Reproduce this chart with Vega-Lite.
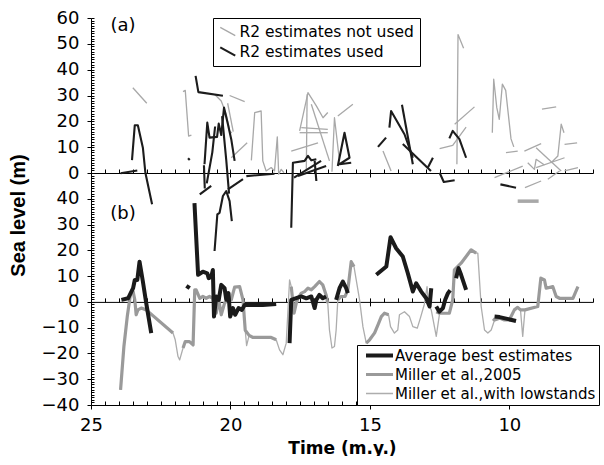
{
  "$schema": "https://vega.github.io/schema/vega-lite/v6.json",
  "padding": {"left": 8, "top": 9, "right": 0, "bottom": 0},
  "bounds": "flush",
  "spacing": 0,
  "config": {
    "font": "DejaVu Sans",
    "view": {"stroke": null},
    "axis": {"domainColor": "#000", "tickColor": "#000", "labelColor": "#000", "titleColor": "#000", "grid": false, "labelFont": "DejaVu Sans", "domainWidth": 1, "tickWidth": 1, "labelOverlap": false, "ticks": true}
  },
  "datasets": {
    "ra": [
      {"s":"n","g":1,"t":23.5,"v":33},{"s":"n","g":1,"t":23.0,"v":27},
      {"s":"n","g":2,"t":21.7,"v":31.5},{"s":"n","g":2,"t":21.62,"v":32},{"s":"n","g":2,"t":21.5,"v":14.3},{"s":"n","g":2,"t":21.4,"v":14.7},
      {"s":"n","g":3,"t":20.03,"v":30},{"s":"n","g":3,"t":19.49,"v":27.6},
      {"s":"n","g":4,"t":19.25,"v":4.9},{"s":"n","g":4,"t":19.13,"v":23.4},{"s":"n","g":4,"t":18.9,"v":24},{"s":"n","g":4,"t":18.84,"v":4.7},{"s":"n","g":4,"t":18.72,"v":0.8},{"s":"n","g":4,"t":18.54,"v":2.1},{"s":"n","g":4,"t":18.42,"v":0.8},{"s":"n","g":4,"t":18.32,"v":14},{"s":"n","g":4,"t":18.27,"v":-0.5},{"s":"n","g":4,"t":18.18,"v":1.4},{"s":"n","g":4,"t":18.08,"v":0.1},
      {"s":"n","g":5,"t":19.97,"v":5.9},{"s":"n","g":5,"t":19.4,"v":11.7},
      {"s":"n","g":6,"t":20.57,"v":30.5},{"s":"n","g":6,"t":20.33,"v":27.9},{"s":"n","g":6,"t":20.15,"v":22.7},{"s":"n","g":6,"t":20.03,"v":16.3},{"s":"n","g":6,"t":19.95,"v":15.5},
      {"s":"n","g":7,"t":20.1,"v":27},{"s":"n","g":7,"t":19.9,"v":16},
      {"s":"n","g":8,"t":17.52,"v":16.3},{"s":"n","g":8,"t":17.22,"v":31.1},{"s":"n","g":8,"t":16.92,"v":26},{"s":"n","g":8,"t":16.68,"v":21.4},{"s":"n","g":8,"t":16.51,"v":23.4},
      {"s":"n","g":9,"t":17.52,"v":15.6},{"s":"n","g":9,"t":16.51,"v":15.6},
      {"s":"n","g":10,"t":17.46,"v":17.6},{"s":"n","g":10,"t":16.51,"v":16.9},
      {"s":"n","g":11,"t":17.82,"v":8.5},{"s":"n","g":11,"t":16.86,"v":11.7},
      {"s":"n","g":12,"t":17.25,"v":30.5},{"s":"n","g":12,"t":17.28,"v":0.8},
      {"s":"n","g":13,"t":17.1,"v":26.6},{"s":"n","g":13,"t":16.45,"v":4.7},
      {"s":"n","g":14,"t":16.36,"v":0.5},{"s":"n","g":14,"t":16.27,"v":21.4},{"s":"n","g":14,"t":16.09,"v":4.7},
      {"s":"n","g":15,"t":16.15,"v":22.1},{"s":"n","g":15,"t":15.61,"v":26.6},
      {"s":"n","g":16,"t":14.53,"v":8.5},{"s":"n","g":16,"t":14.24,"v":0.8},
      {"s":"n","g":17,"t":12.5,"v":9.4},{"s":"n","g":17,"t":12.03,"v":10.7},{"s":"n","g":17,"t":11.55,"v":17.8},
      {"s":"n","g":18,"t":11.96,"v":18.9},{"s":"n","g":18,"t":11.25,"v":25.6},
      {"s":"n","g":19,"t":11.88,"v":3.4},{"s":"n","g":19,"t":11.84,"v":53.6},{"s":"n","g":19,"t":11.64,"v":48.3},
      {"s":"n","g":20,"t":10.61,"v":15.6},{"s":"n","g":20,"t":10.56,"v":36.3},{"s":"n","g":20,"t":10.45,"v":25.3},{"s":"n","g":20,"t":10.36,"v":20.8},{"s":"n","g":20,"t":10.25,"v":34.4},{"s":"n","g":20,"t":10.13,"v":32},{"s":"n","g":20,"t":9.94,"v":13.2},{"s":"n","g":20,"t":9.84,"v":10.1},
      {"s":"n","g":21,"t":10.12,"v":7.9},{"s":"n","g":21,"t":9.7,"v":8.5},
      {"s":"w","g":22,"t":9.7,"v":-10.9},{"s":"w","g":22,"t":8.95,"v":-10.9},
      {"s":"n","g":23,"t":10.53,"v":-1.8},{"s":"n","g":23,"t":9.52,"v":2.7},
      {"s":"n","g":24,"t":9.44,"v":-5.7},{"s":"n","g":24,"t":8.86,"v":-3.1},
      {"s":"n","g":25,"t":9.46,"v":8.5},{"s":"n","g":25,"t":8.86,"v":11.4},
      {"s":"n","g":26,"t":8.83,"v":24.7},{"s":"n","g":26,"t":8.32,"v":25.6},
      {"s":"n","g":27,"t":9.34,"v":4},{"s":"n","g":27,"t":9.1,"v":1.4},{"s":"n","g":27,"t":9.04,"v":5.3},{"s":"n","g":27,"t":8.74,"v":3.1},
      {"s":"n","g":28,"t":9.04,"v":9.8},{"s":"n","g":28,"t":8.14,"v":0.8},
      {"s":"n","g":29,"t":9.04,"v":2.1},{"s":"n","g":29,"t":8.02,"v":5.9},
      {"s":"n","g":30,"t":8.62,"v":-2.4},{"s":"n","g":30,"t":8.2,"v":0.8},
      {"s":"n","g":31,"t":8.5,"v":4},{"s":"n","g":31,"t":8.26,"v":6.6},{"s":"n","g":31,"t":8.14,"v":18.9},{"s":"n","g":31,"t":8.04,"v":15.6},
      {"s":"n","g":32,"t":8.02,"v":11.1},{"s":"n","g":32,"t":7.57,"v":11.7},
      {"s":"n","g":33,"t":8.02,"v":0.8},{"s":"n","g":33,"t":7.54,"v":2.1},
      {"s":"u","g":1,"t":23.94,"v":-0.1},{"s":"u","g":1,"t":23.34,"v":1.0},
      {"s":"u","g":2,"t":23.53,"v":5},{"s":"u","g":2,"t":23.43,"v":18.5},{"s":"u","g":2,"t":23.32,"v":18.5},{"s":"u","g":2,"t":23.14,"v":9.8},{"s":"u","g":2,"t":23.05,"v":0.1},{"s":"u","g":2,"t":22.81,"v":-12.1},
      {"s":"u","g":3,"t":21.52,"v":5.7},{"s":"u","g":3,"t":21.46,"v":5.0},
      {"s":"u","g":4,"t":21.25,"v":37.6},{"s":"u","g":4,"t":21.15,"v":31.3},{"s":"u","g":4,"t":20.27,"v":29.9},
      {"s":"u","g":5,"t":20.93,"v":3.4},{"s":"u","g":5,"t":20.83,"v":19.5},{"s":"u","g":5,"t":20.75,"v":13.7},{"s":"u","g":5,"t":20.48,"v":14},{"s":"u","g":5,"t":20.42,"v":19.1},{"s":"u","g":5,"t":20.33,"v":14.7},{"s":"u","g":5,"t":20.23,"v":25.3},{"s":"u","g":5,"t":20.09,"v":18.9},{"s":"u","g":5,"t":19.97,"v":13},{"s":"u","g":5,"t":19.85,"v":4.7},
      {"s":"u","g":6,"t":21.1,"v":-8.3},{"s":"u","g":6,"t":20.69,"v":-5},
      {"s":"u","g":7,"t":20.57,"v":-30.2},{"s":"u","g":7,"t":20.47,"v":-16},{"s":"u","g":7,"t":20.39,"v":-15.4},{"s":"u","g":7,"t":20.27,"v":-8.9},{"s":"u","g":7,"t":20.15,"v":-7},{"s":"u","g":7,"t":20.03,"v":-10.9},{"s":"u","g":7,"t":19.95,"v":-18.6},
      {"s":"u","g":8,"t":20.09,"v":-6.3},{"s":"u","g":8,"t":19.55,"v":-2.4},
      {"s":"u","g":9,"t":19.43,"v":-1.2},{"s":"u","g":9,"t":18.42,"v":-0.3},
      {"s":"u","g":10,"t":17.82,"v":-21.2},{"s":"u","g":10,"t":17.76,"v":4},{"s":"u","g":10,"t":17.34,"v":4.7},{"s":"u","g":10,"t":17.22,"v":6.6},{"s":"u","g":10,"t":17.1,"v":4.9},{"s":"u","g":10,"t":16.92,"v":5.3},
      {"s":"u","g":11,"t":17.72,"v":-1.8},{"s":"u","g":11,"t":16.75,"v":4.7},
      {"s":"u","g":12,"t":17.58,"v":-1.2},{"s":"u","g":12,"t":16.57,"v":2.7},
      {"s":"u","g":13,"t":16.98,"v":4.7},{"s":"u","g":13,"t":16.92,"v":-3.1},
      {"s":"u","g":14,"t":16.15,"v":2.7},{"s":"u","g":14,"t":15.91,"v":15.6},{"s":"u","g":14,"t":15.73,"v":5.9},{"s":"u","g":14,"t":16.09,"v":3.4},{"s":"u","g":14,"t":15.67,"v":4.0},
      {"s":"u","g":15,"t":14.71,"v":10.1},{"s":"u","g":15,"t":14.42,"v":13.7},
      {"s":"u","g":16,"t":14.3,"v":17.6},{"s":"u","g":16,"t":14.24,"v":24},{"s":"u","g":16,"t":13.76,"v":15},{"s":"u","g":16,"t":13.46,"v":5.9},
      {"s":"u","g":17,"t":13.85,"v":26.4},{"s":"u","g":17,"t":13.46,"v":3.4},
      {"s":"u","g":18,"t":13.82,"v":11.2},{"s":"u","g":18,"t":12.81,"v":0.8},
      {"s":"u","g":19,"t":12.92,"v":2.1},{"s":"u","g":19,"t":12.74,"v":5.9},
      {"s":"u","g":20,"t":12.5,"v":0.1},{"s":"u","g":20,"t":12.35,"v":-3.5},{"s":"u","g":20,"t":11.96,"v":-2.8},
      {"s":"u","g":21,"t":12.15,"v":13.4},{"s":"u","g":21,"t":12.03,"v":16.3},{"s":"u","g":21,"t":11.79,"v":13.1},{"s":"u","g":21,"t":11.55,"v":5.9},
      {"s":"u","g":22,"t":10.32,"v":-4.4},{"s":"u","g":22,"t":9.76,"v":-5.7},
      {"s":"u","g":23,"t":20.95,"v":3},{"s":"u","g":23,"t":20.92,"v":-6},
      {"s":"u","g":24,"t":20.85,"v":-4},{"s":"u","g":24,"t":20.65,"v":8},{"s":"u","g":24,"t":20.55,"v":18},
      {"s":"u","g":25,"t":20.3,"v":22},{"s":"u","g":25,"t":20.15,"v":5},{"s":"u","g":25,"t":20.05,"v":-8}
    ],
    "rb": [
      {"s":"L","g":1,"t":23.94,"v":-34.1},{"s":"L","g":1,"t":23.82,"v":-17.3},{"s":"L","g":1,"t":23.7,"v":-5.7},{"s":"L","g":1,"t":23.58,"v":3.4},{"s":"L","g":1,"t":23.49,"v":4},{"s":"L","g":1,"t":23.43,"v":0.8},{"s":"L","g":1,"t":23.38,"v":-5},{"s":"L","g":1,"t":23.32,"v":-3.1},{"s":"L","g":1,"t":23.2,"v":-2.4},{"s":"L","g":1,"t":23.02,"v":-3.1},{"s":"L","g":1,"t":22.06,"v":-12.1},{"s":"L","g":1,"t":21.98,"v":-14.7},{"s":"L","g":1,"t":21.88,"v":-21.2},{"s":"L","g":1,"t":21.82,"v":-22.5},{"s":"L","g":1,"t":21.7,"v":-17.9},{"s":"L","g":1,"t":21.62,"v":-15.4},{"s":"L","g":1,"t":21.47,"v":-15.4},{"s":"L","g":1,"t":21.34,"v":-16.7},{"s":"L","g":1,"t":21.28,"v":4.7},{"s":"L","g":1,"t":21.23,"v":4.7},{"s":"L","g":1,"t":21.1,"v":1.4},{"s":"L","g":1,"t":20.99,"v":2.1},{"s":"L","g":1,"t":20.87,"v":1.4},{"s":"L","g":1,"t":20.75,"v":2.1},{"s":"L","g":1,"t":20.63,"v":1.4},{"s":"L","g":1,"t":20.51,"v":-4.4},{"s":"L","g":1,"t":20.42,"v":0.8},{"s":"L","g":1,"t":20.33,"v":-5},{"s":"L","g":1,"t":20.21,"v":-0.5},{"s":"L","g":1,"t":20.09,"v":0.8},{"s":"L","g":1,"t":19.97,"v":0.8},{"s":"L","g":1,"t":19.85,"v":5.7},{"s":"L","g":1,"t":19.67,"v":5.9},{"s":"L","g":1,"t":19.55,"v":0.8},{"s":"L","g":1,"t":19.47,"v":-11},{"s":"L","g":1,"t":19.42,"v":-17},{"s":"L","g":1,"t":19.33,"v":-13},{"s":"L","g":1,"t":19.19,"v":-13.8},{"s":"L","g":1,"t":18.54,"v":-13.8},{"s":"L","g":1,"t":18.36,"v":-14.7},{"s":"L","g":1,"t":18.24,"v":-18.6},{"s":"L","g":1,"t":18.12,"v":-20.5},{"s":"L","g":1,"t":18.0,"v":-16},{"s":"L","g":1,"t":17.88,"v":8.5},{"s":"L","g":1,"t":17.82,"v":5.9},{"s":"L","g":1,"t":17.72,"v":-4.4},{"s":"L","g":1,"t":17.64,"v":-0.5},{"s":"L","g":1,"t":17.58,"v":1.4},{"s":"L","g":1,"t":17.46,"v":3.4},{"s":"L","g":1,"t":17.34,"v":4},{"s":"L","g":1,"t":17.22,"v":5.3},{"s":"L","g":1,"t":17.1,"v":4.7},{"s":"L","g":1,"t":16.98,"v":5.9},{"s":"L","g":1,"t":16.81,"v":7.9},{"s":"L","g":1,"t":16.69,"v":6.6},{"s":"L","g":1,"t":16.57,"v":2.7},{"s":"L","g":1,"t":16.51,"v":-0.5},{"s":"L","g":1,"t":16.45,"v":-10.9},{"s":"L","g":1,"t":16.36,"v":-17.9},{"s":"L","g":1,"t":16.27,"v":-17.3},{"s":"L","g":1,"t":16.21,"v":-10.9},{"s":"L","g":1,"t":16.15,"v":0.8},{"s":"L","g":1,"t":16.03,"v":2.1},{"s":"L","g":1,"t":15.89,"v":2.1},{"s":"L","g":1,"t":15.79,"v":4.7},{"s":"L","g":1,"t":15.67,"v":15.6},{"s":"L","g":1,"t":15.57,"v":13.7},{"s":"L","g":1,"t":15.49,"v":8.5},{"s":"L","g":1,"t":15.37,"v":0.8},{"s":"L","g":1,"t":15.25,"v":-9.6},{"s":"L","g":1,"t":15.13,"v":-16},{"s":"L","g":1,"t":15.01,"v":-14.7},{"s":"L","g":1,"t":14.83,"v":-12},{"s":"L","g":1,"t":14.71,"v":-8.9},{"s":"L","g":1,"t":14.59,"v":-5.7},{"s":"L","g":1,"t":14.48,"v":-4.4},{"s":"L","g":1,"t":14.33,"v":-5},{"s":"L","g":1,"t":14.26,"v":-9.6},{"s":"L","g":1,"t":14.12,"v":-12.1},{"s":"L","g":1,"t":14.0,"v":-10.9},{"s":"L","g":1,"t":13.94,"v":-5},{"s":"L","g":1,"t":13.76,"v":-3.8},{"s":"L","g":1,"t":13.58,"v":-5.7},{"s":"L","g":1,"t":13.46,"v":-9.6},{"s":"L","g":1,"t":13.3,"v":-10.2},{"s":"L","g":1,"t":13.19,"v":-6.3},{"s":"L","g":1,"t":13.05,"v":-1},{"s":"L","g":1,"t":12.95,"v":5.9},{"s":"L","g":1,"t":12.9,"v":-1},{"s":"L","g":1,"t":12.8,"v":-3.1},{"s":"L","g":1,"t":12.62,"v":-13.4},{"s":"L","g":1,"t":12.5,"v":-4.4},{"s":"L","g":1,"t":12.33,"v":-4.4},{"s":"L","g":1,"t":12.15,"v":-4.4},{"s":"L","g":1,"t":12.03,"v":0.8},{"s":"L","g":1,"t":11.97,"v":12.4},{"s":"L","g":1,"t":11.73,"v":15},{"s":"L","g":1,"t":11.37,"v":20.2},{"s":"L","g":1,"t":11.19,"v":18.9},{"s":"L","g":1,"t":11.13,"v":18.9},{"s":"L","g":1,"t":11.01,"v":-1.8},{"s":"L","g":1,"t":10.89,"v":-10.9},{"s":"L","g":1,"t":10.77,"v":-12.1},{"s":"L","g":1,"t":10.65,"v":-10.9},{"s":"L","g":1,"t":10.53,"v":-7},{"s":"L","g":1,"t":10.35,"v":-6.3},{"s":"L","g":1,"t":10.18,"v":-7},{"s":"L","g":1,"t":10.0,"v":-7},{"s":"L","g":1,"t":9.82,"v":-3.1},{"s":"L","g":1,"t":9.7,"v":-2.1},{"s":"L","g":1,"t":9.6,"v":-3.1},{"s":"L","g":1,"t":9.52,"v":-13.4},{"s":"L","g":1,"t":9.44,"v":-3.1},{"s":"L","g":1,"t":8.98,"v":-1.8},{"s":"L","g":1,"t":8.87,"v":9.2},{"s":"L","g":1,"t":8.74,"v":8.5},{"s":"L","g":1,"t":8.68,"v":5.3},{"s":"L","g":1,"t":8.44,"v":5.9},{"s":"L","g":1,"t":8.32,"v":2.1},{"s":"L","g":1,"t":8.2,"v":1.4},{"s":"L","g":1,"t":7.72,"v":1.4},{"s":"L","g":1,"t":7.54,"v":5.9},
      {"s":"M","g":1,"t":23.94,"v":-34.1},{"s":"M","g":1,"t":23.82,"v":-17.3},{"s":"M","g":1,"t":23.7,"v":-5.7},{"s":"M","g":1,"t":23.58,"v":3.4},{"s":"M","g":1,"t":23.49,"v":4},{"s":"M","g":1,"t":23.43,"v":0.8},{"s":"M","g":1,"t":23.38,"v":-5},{"s":"M","g":1,"t":23.32,"v":-3.1},{"s":"M","g":1,"t":23.2,"v":-2.4},{"s":"M","g":1,"t":23.02,"v":-3.1},{"s":"M","g":1,"t":22.06,"v":-12.1},
      {"s":"M","g":2,"t":21.7,"v":-17.9},{"s":"M","g":2,"t":21.62,"v":-15.4},{"s":"M","g":2,"t":21.47,"v":-15.4},{"s":"M","g":2,"t":21.34,"v":-16.7},{"s":"M","g":2,"t":21.28,"v":4.7},{"s":"M","g":2,"t":21.23,"v":4.7},{"s":"M","g":2,"t":21.1,"v":1.4},{"s":"M","g":2,"t":20.99,"v":2.1},{"s":"M","g":2,"t":20.87,"v":1.4},{"s":"M","g":2,"t":20.75,"v":2.1},{"s":"M","g":2,"t":20.63,"v":1.4},{"s":"M","g":2,"t":20.51,"v":-4.4},{"s":"M","g":2,"t":20.42,"v":0.8},{"s":"M","g":2,"t":20.33,"v":-5},{"s":"M","g":2,"t":20.21,"v":-0.5},{"s":"M","g":2,"t":20.09,"v":0.8},{"s":"M","g":2,"t":19.97,"v":0.8},{"s":"M","g":2,"t":19.85,"v":5.7},{"s":"M","g":2,"t":19.67,"v":5.9},{"s":"M","g":2,"t":19.55,"v":0.8},{"s":"M","g":2,"t":19.47,"v":-11},{"s":"M","g":2,"t":19.33,"v":-13},{"s":"M","g":2,"t":19.19,"v":-13.8},{"s":"M","g":2,"t":18.54,"v":-13.8},{"s":"M","g":2,"t":18.36,"v":-14.7},
      {"s":"M","g":3,"t":17.82,"v":5.9},{"s":"M","g":3,"t":17.72,"v":-4.4},{"s":"M","g":3,"t":17.64,"v":-0.5},{"s":"M","g":3,"t":17.58,"v":1.4},{"s":"M","g":3,"t":17.46,"v":3.4},{"s":"M","g":3,"t":17.34,"v":4},{"s":"M","g":3,"t":17.22,"v":5.3},{"s":"M","g":3,"t":17.1,"v":4.7},{"s":"M","g":3,"t":16.98,"v":5.9},{"s":"M","g":3,"t":16.81,"v":7.9},{"s":"M","g":3,"t":16.69,"v":6.6},{"s":"M","g":3,"t":16.57,"v":2.7},{"s":"M","g":3,"t":16.51,"v":-0.5},
      {"s":"M","g":4,"t":16.15,"v":0.8},{"s":"M","g":4,"t":16.03,"v":2.1},{"s":"M","g":4,"t":15.89,"v":2.1},{"s":"M","g":4,"t":15.79,"v":4.7},{"s":"M","g":4,"t":15.67,"v":15.6},{"s":"M","g":4,"t":15.57,"v":13.7},
      {"s":"M","g":5,"t":15.13,"v":-16},{"s":"M","g":5,"t":15.01,"v":-14.7},{"s":"M","g":5,"t":14.83,"v":-12},{"s":"M","g":5,"t":14.71,"v":-8.9},{"s":"M","g":5,"t":14.59,"v":-5.7},{"s":"M","g":5,"t":14.48,"v":-4.4},{"s":"M","g":5,"t":14.33,"v":-5},
      {"s":"M","g":6,"t":12.62,"v":-3.8},{"s":"M","g":6,"t":12.5,"v":-4.4},{"s":"M","g":6,"t":12.33,"v":-4.4},{"s":"M","g":6,"t":12.15,"v":-4.4},{"s":"M","g":6,"t":12.03,"v":0.8},{"s":"M","g":6,"t":11.97,"v":12.4},{"s":"M","g":6,"t":11.73,"v":15},{"s":"M","g":6,"t":11.37,"v":20.2},{"s":"M","g":6,"t":11.19,"v":18.9},
      {"s":"M","g":7,"t":10.59,"v":-6.5},{"s":"M","g":7,"t":10.53,"v":-7},{"s":"M","g":7,"t":10.35,"v":-6.3},{"s":"M","g":7,"t":10.18,"v":-7},{"s":"M","g":7,"t":10.0,"v":-7},{"s":"M","g":7,"t":9.82,"v":-3.1},{"s":"M","g":7,"t":9.7,"v":-2.1},{"s":"M","g":7,"t":9.6,"v":-3.1},{"s":"M","g":7,"t":9.44,"v":-3.1},{"s":"M","g":7,"t":8.98,"v":-1.8},{"s":"M","g":7,"t":8.87,"v":9.2},{"s":"M","g":7,"t":8.74,"v":8.5},{"s":"M","g":7,"t":8.68,"v":5.3},{"s":"M","g":7,"t":8.44,"v":5.9},{"s":"M","g":7,"t":8.32,"v":2.1},{"s":"M","g":7,"t":8.2,"v":1.4},{"s":"M","g":7,"t":7.72,"v":1.4},{"s":"M","g":7,"t":7.54,"v":5.9},
      {"s":"A","g":1,"t":23.91,"v":0.8},{"s":"A","g":1,"t":23.67,"v":1.4},{"s":"A","g":1,"t":23.49,"v":5.3},{"s":"A","g":1,"t":23.43,"v":8.5},{"s":"A","g":1,"t":23.34,"v":8.5},{"s":"A","g":1,"t":23.26,"v":15.6},{"s":"A","g":1,"t":23.14,"v":7.9},{"s":"A","g":1,"t":23.02,"v":-0.5},{"s":"A","g":1,"t":22.84,"v":-12.1},
      {"s":"A","g":2,"t":21.58,"v":6.2},{"s":"A","g":2,"t":21.46,"v":5.3},
      {"s":"A","g":3,"t":21.29,"v":38.3},{"s":"A","g":3,"t":21.16,"v":10.5},{"s":"A","g":3,"t":20.99,"v":11.7},{"s":"A","g":3,"t":20.83,"v":11.1},{"s":"A","g":3,"t":20.78,"v":9.2},{"s":"A","g":3,"t":20.69,"v":9.8},{"s":"A","g":3,"t":20.63,"v":12.4},{"s":"A","g":3,"t":20.59,"v":-5.7},{"s":"A","g":3,"t":20.51,"v":2.1},{"s":"A","g":3,"t":20.42,"v":0.8},{"s":"A","g":3,"t":20.33,"v":6.6},{"s":"A","g":3,"t":20.21,"v":5.3},{"s":"A","g":3,"t":20.15,"v":0.8},{"s":"A","g":3,"t":20.07,"v":3.4},{"s":"A","g":3,"t":20.01,"v":-5.7},{"s":"A","g":3,"t":19.91,"v":-2.4},{"s":"A","g":3,"t":19.83,"v":-5},{"s":"A","g":3,"t":19.71,"v":-2.4},{"s":"A","g":3,"t":19.59,"v":-3.1},{"s":"A","g":3,"t":19.49,"v":-1.2},{"s":"A","g":3,"t":18.84,"v":-1.2},{"s":"A","g":3,"t":18.36,"v":-0.8},
      {"s":"A","g":4,"t":17.88,"v":-16},{"s":"A","g":4,"t":17.82,"v":0.8},{"s":"A","g":4,"t":17.46,"v":2.1},{"s":"A","g":4,"t":17.28,"v":1.4},{"s":"A","g":4,"t":17.1,"v":2.1},{"s":"A","g":4,"t":16.98,"v":-2.4},{"s":"A","g":4,"t":16.92,"v":0.8},{"s":"A","g":4,"t":16.81,"v":2.7},{"s":"A","g":4,"t":16.69,"v":1.4},{"s":"A","g":4,"t":16.57,"v":2.1},
      {"s":"A","g":5,"t":16.21,"v":0.8},{"s":"A","g":5,"t":16.09,"v":5.3},{"s":"A","g":5,"t":15.97,"v":7.9},{"s":"A","g":5,"t":15.85,"v":5.3},{"s":"A","g":5,"t":15.79,"v":3.4},
      {"s":"A","g":6,"t":14.77,"v":10.5},{"s":"A","g":6,"t":14.41,"v":13.7},{"s":"A","g":6,"t":14.26,"v":25.1},{"s":"A","g":6,"t":14.06,"v":20.8},{"s":"A","g":6,"t":13.82,"v":17.6},{"s":"A","g":6,"t":13.64,"v":11.1},{"s":"A","g":6,"t":13.46,"v":4},{"s":"A","g":6,"t":13.34,"v":7.2},{"s":"A","g":6,"t":13.16,"v":4},{"s":"A","g":6,"t":12.98,"v":1.4},{"s":"A","g":6,"t":12.86,"v":-1.8},{"s":"A","g":6,"t":12.8,"v":5.3},
      {"s":"A","g":7,"t":12.62,"v":-1.8},{"s":"A","g":7,"t":12.51,"v":-3.8},{"s":"A","g":7,"t":12.38,"v":-2.4},{"s":"A","g":7,"t":12.3,"v":0.8},{"s":"A","g":7,"t":12.2,"v":3.4},{"s":"A","g":7,"t":12.12,"v":4.5},
      {"s":"A","g":8,"t":11.91,"v":9.2},{"s":"A","g":8,"t":11.82,"v":13.1},{"s":"A","g":8,"t":11.73,"v":10.5},{"s":"A","g":8,"t":11.55,"v":4.7},
      {"s":"A","g":9,"t":10.53,"v":-5.7},{"s":"A","g":9,"t":10.35,"v":-5.9},{"s":"A","g":9,"t":9.76,"v":-7.4}
    ]
  },
  "vconcat": [
    {
      "width": 502,
      "height": 155,
      "resolve": {"axis": {"x": "independent", "y": "independent"}},
      "layer": [
        {
          "data": {"name": "ra"},
          "transform": [{"filter": "datum.s === 'n'"}],
          "mark": {"type": "line", "strokeJoin": "round", "strokeWidth": 1.3},
          "encoding": {
            "x": {"field": "t", "type": "quantitative", "scale": {"domain": [7, 25], "reverse": true, "nice": false, "zero": false},
              "axis": {"orient": "bottom", "title": null, "labels": false, "values": [10, 15, 20, 25], "tickSize": 4, "tickColor": "#000", "ticks": true, "domain": true}},
            "y": {"field": "v", "type": "quantitative", "scale": {"domain": [0, 60], "nice": false, "zero": false},
              "axis": {"orient": "left", "title": null, "values": [0, 10, 20, 30, 40, 50, 60], "format": "d", "labelFontSize": 18, "labelPadding": 8, "tickSize": 4, "tickColor": "#000", "ticks": true, "domain": true}},
            "detail": {"field": "g", "type": "nominal"},
            "order": {"value": null},
            "color": {"field": "s", "type": "nominal", "scale": {"domain": ["n", "u"], "range": ["#a8a8a8", "#1c1c1c"]},
              "legend": {"title": null, "orient": "none", "legendX": 122, "legendY": 0, "symbolType": "M-1,-0.55L1,0.55", "symbolSize": 225, "clipHeight": 15, "labelFontSize": 15.5, "labelFont": "DejaVu Sans", "labelColor": "#000", "labelLimit": 0,
                "labelExpr": "datum.value === 'n' ? 'R2 estimates not used' : 'R2 estimates used'", "strokeColor": "#000", "fillColor": "#fff", "padding": 6, "rowPadding": 4, "labelOffset": 4, "symbolOffset": 1,
                "encode": {"symbols": {"update": {"strokeWidth": {"signal": "datum.value === 'n' ? 1.3 : 2.1"}, "fill": {"value": "transparent"}}}}}}
          }
        },
        {
          "data": {"name": "ra"},
          "transform": [{"filter": "datum.s === 'w'"}],
          "mark": {"type": "line", "strokeWidth": 3.5, "color": "#a8a8a8"},
          "encoding": {
            "x": {"field": "t", "type": "quantitative", "axis": null},
            "y": {"field": "v", "type": "quantitative", "axis": null},
            "detail": {"field": "g", "type": "nominal"},
            "order": {"value": null}
          }
        },
        {
          "data": {"name": "ra"},
          "transform": [{"filter": "datum.s === 'u'"}],
          "mark": {"type": "line", "strokeJoin": "round", "strokeWidth": 2.1},
          "encoding": {
            "x": {"field": "t", "type": "quantitative",
              "axis": {"orient": "bottom", "title": null, "labels": false, "domain": false, "ticks": true, "tickSize": -4, "tickColor": "#000",
                "values": [7,7.5,8,8.5,9,9.5,10,10.5,11,11.5,12,12.5,13,13.5,14,14.5,15,15.5,16,16.5,17,17.5,18,18.5,19,19.5,20,20.5,21,21.5,22,22.5,23,23.5,24,24.5,25]}},
            "y": {"field": "v", "type": "quantitative",
              "axis": {"orient": "left", "title": null, "labels": false, "domain": false, "ticks": true, "tickSize": -3, "tickColor": "#000",
                "values": [0,1,2,3,4,5,6,7,8,9,10,11,12,13,14,15,16,17,18,19,20,21,22,23,24,25,26,27,28,29,30,31,32,33,34,35,36,37,38,39,40,41,42,43,44,45,46,47,48,49,50,51,52,53,54,55,56,57,58,59,60]}},
            "detail": {"field": "g", "type": "nominal"},
            "order": {"value": null},
            "color": {"field": "s", "type": "nominal"}
          }
        },
        {
          "data": {"values": [{}]},
          "mark": {"type": "text", "fontSize": 18, "font": "DejaVu Sans", "color": "#000", "align": "center", "baseline": "middle"},
          "encoding": {
            "x": {"datum": 23.85, "type": "quantitative", "axis": null},
            "y": {"datum": 57, "type": "quantitative", "axis": null},
            "text": {"value": "(a)"}
          }
        }
      ]
    },
    {
      "width": 502,
      "height": 232,
      "resolve": {"axis": {"x": "independent", "y": "independent"}},
      "layer": [
        {
          "data": {"name": "rb"},
          "transform": [{"filter": "datum.s === 'L'"}],
          "mark": {"type": "line", "strokeJoin": "round", "strokeWidth": 1.3},
          "encoding": {
            "x": {"field": "t", "type": "quantitative", "scale": {"domain": [7, 25], "reverse": true, "nice": false, "zero": false},
              "axis": {"orient": "bottom", "values": [10, 15, 20, 25], "format": "d", "labelFontSize": 18, "labelPadding": 7, "labelFlush": false, "tickSize": 4, "tickColor": "#000", "ticks": true, "domain": true,
                "title": "Time (m.y.)", "titleFont": "DejaVu Sans", "titleFontSize": 17, "titleFontWeight": "bold", "titlePadding": 6}},
            "y": {"field": "v", "type": "quantitative", "scale": {"domain": [-40, 50], "nice": false, "zero": false},
              "axis": {"orient": "left", "values": [-40, -30, -20, -10, 0, 10, 20, 30, 40], "format": "d", "labelFontSize": 18, "labelPadding": 8, "tickSize": 4, "tickColor": "#000", "ticks": true, "domain": true,
                "title": "Sea level (m)", "titleFont": "Liberation Sans", "titleFontSize": 20, "titleFontWeight": "bold", "titleX": -63, "titleY": 42}},
            "detail": {"field": "g", "type": "nominal"},
            "order": {"value": null},
            "color": {"field": "s", "type": "nominal", "scale": {"domain": ["A", "M", "L"], "range": ["#1a1a1a", "#9a9a9a", "#adadad"]},
              "legend": {"title": null, "orient": "none", "legendX": 266, "legendY": 172, "symbolType": "M-0.2,0H3.4", "symbolSize": 225, "clipHeight": 15, "labelFontSize": 15, "labelFont": "DejaVu Sans", "labelColor": "#000", "labelLimit": 0,
                "labelExpr": "datum.value === 'A' ? 'Average best estimates' : datum.value === 'M' ? 'Miller et al.,2005' : 'Miller et al.,with lowstands'", "strokeColor": "#000", "fillColor": "#fff", "padding": 3, "rowPadding": 3, "labelOffset": 20, "symbolOffset": 0,
                "encode": {"symbols": {"update": {"strokeWidth": {"signal": "datum.value === 'A' ? 4 : datum.value === 'M' ? 3.2 : 1.3"}, "fill": {"value": "transparent"}}}}}}
          }
        },
        {
          "data": {"name": "rb"},
          "transform": [{"filter": "datum.s === 'M'"}],
          "mark": {"type": "line", "strokeJoin": "round", "strokeWidth": 3.2},
          "encoding": {
            "x": {"field": "t", "type": "quantitative",
              "axis": {"orient": "bottom", "title": null, "labels": false, "domain": false, "ticks": true, "tickSize": -4, "tickColor": "#000",
                "values": [7,7.5,8,8.5,9,9.5,10,10.5,11,11.5,12,12.5,13,13.5,14,14.5,15,15.5,16,16.5,17,17.5,18,18.5,19,19.5,20,20.5,21,21.5,22,22.5,23,23.5,24,24.5,25]}},
            "y": {"field": "v", "type": "quantitative",
              "axis": {"orient": "left", "title": null, "labels": false, "domain": false, "ticks": true, "tickSize": -3, "tickColor": "#000",
                "values": [-40,-39,-38,-37,-36,-35,-34,-33,-32,-31,-30,-29,-28,-27,-26,-25,-24,-23,-22,-21,-20,-19,-18,-17,-16,-15,-14,-13,-12,-11,-10,-9,-8,-7,-6,-5,-4,-3,-2,-1,0,1,2,3,4,5,6,7,8,9,10,11,12,13,14,15,16,17,18,19,20,21,22,23,24,25,26,27,28,29,30,31,32,33,34,35,36,37,38,39,40,41,42,43,44,45,46,47,48,49]}},
            "detail": {"field": "g", "type": "nominal"},
            "order": {"value": null},
            "color": {"field": "s", "type": "nominal"}
          }
        },
        {
          "data": {"name": "rb"},
          "transform": [{"filter": "datum.s === 'A'"}],
          "mark": {"type": "line", "strokeJoin": "round", "strokeWidth": 4},
          "encoding": {
            "x": {"field": "t", "type": "quantitative",
              "axis": {"orient": "top", "offset": -128.9, "title": null, "labels": false, "domain": true, "ticks": true, "tickSize": 4, "tickColor": "#000",
                "values": [7,7.5,8,8.5,9,9.5,10,10.5,11,11.5,12,12.5,13,13.5,14,14.5,15,15.5,16,16.5,17,17.5,18,18.5,19,19.5,20,20.5,21,21.5,22,22.5,23,23.5,24,24.5,25]}},
            "y": {"field": "v", "type": "quantitative", "axis": null},
            "detail": {"field": "g", "type": "nominal"},
            "order": {"value": null},
            "color": {"field": "s", "type": "nominal"}
          }
        },
        {
          "data": {"values": [{}]},
          "mark": {"type": "text", "fontSize": 18, "font": "DejaVu Sans", "color": "#000", "align": "center", "baseline": "middle"},
          "encoding": {
            "x": {"datum": 23.85, "type": "quantitative",
              "axis": {"orient": "top", "offset": -128.9, "title": null, "labels": false, "domain": false, "ticks": true, "tickSize": -4, "tickColor": "#000", "values": [10, 15, 20, 25]}},
            "y": {"datum": 34, "type": "quantitative", "axis": null},
            "text": {"value": "(b)"}
          }
        }
      ]
    }
  ],
  "resolve": {"scale": {"x": "independent", "y": "independent", "color": "independent"}, "legend": {"color": "independent"}}
}
